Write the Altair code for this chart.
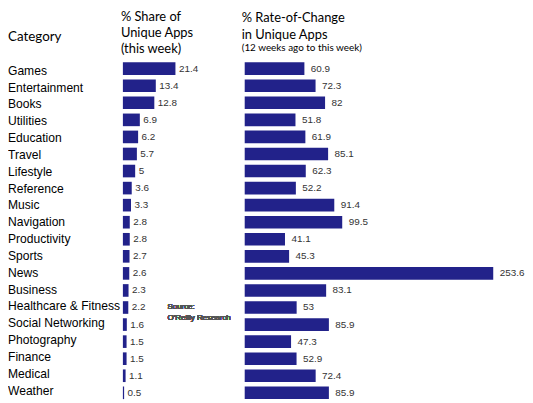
import altair as alt
import pandas as pd

categories = ["Games", "Entertainment", "Books", "Utilities", "Education", "Travel",
              "Lifestyle", "Reference", "Music", "Navigation", "Productivity", "Sports",
              "News", "Business", "Healthcare & Fitness", "Social Networking",
              "Photography", "Finance", "Medical", "Weather"]
share = [21.4, 13.4, 12.8, 6.9, 6.2, 5.7, 5, 3.6, 3.3, 2.8, 2.8, 2.7, 2.6, 2.3,
         2.2, 1.6, 1.5, 1.5, 1.1, 0.5]
change = [60.9, 72.3, 82, 51.8, 61.9, 85.1, 62.3, 52.2, 91.4, 99.5, 41.1, 45.3,
          253.6, 83.1, 53, 85.9, 47.3, 52.9, 72.4, 85.9]

df = pd.DataFrame({"category": categories, "share": share, "change": change})

BAR = "#22228a"
TITLE_FONT = "Lato"
LABEL_FONT = "Liberation Sans"
H = 340
STEP = H / 19.74

yscale = alt.Scale(domain=categories, paddingInner=0.26, paddingOuter=0)
y = alt.Y("category:N", sort=categories, scale=yscale, axis=None)

cat_panel = alt.Chart(df).mark_text(
    align="left", baseline="middle", font=LABEL_FONT, fontSize=12.2, color="#000"
).encode(
    y=y, x=alt.value(0), text="category:N"
).properties(
    width=114, height=H,
    title=alt.TitleParams("Category", anchor="start", font=TITLE_FONT, fontSize=13.5,
                          fontWeight="normal", offset=19, color="#000")
)

share_base = alt.Chart(df).encode(
    y=y,
    x=alt.X("share:Q", scale=alt.Scale(domain=[0, 48.4], nice=False, zero=True), axis=None),
)
share_bars = share_base.mark_bar(color=BAR)
share_text = share_base.mark_text(
    align="left", baseline="middle", dx=3.5, font=LABEL_FONT, fontSize=10, color="#333"
).encode(text=alt.Text("share:Q", format=".1~f"))
source = alt.Chart(df).mark_text(
    text=["Source:", "O\u2019Reilly Research"], align="left", baseline="middle",
    font=LABEL_FONT, fontSize=8, lineHeight=10.5, color="#555"
).encode(x=alt.value(45), y=alt.value(round(14.37 * STEP, 1)))

share_panel = alt.layer(share_bars, share_text, source).properties(
    width=120, height=H,
    title=alt.TitleParams(["% Share of", "Unique Apps", "(this week)"], anchor="start",
                          font=TITLE_FONT, fontSize=13, fontWeight="normal",
                          lineHeight=16.5, offset=6, color="#000", dx=-2)
)

change_base = alt.Chart(df).encode(
    y=y,
    x=alt.X("change:Q", scale=alt.Scale(domain=[0, 285], nice=False, zero=True), axis=None),
)
change_bars = change_base.mark_bar(color=BAR)
change_text = change_base.mark_text(
    align="left", baseline="middle", dx=6.5, font=LABEL_FONT, fontSize=10, color="#333"
).encode(text=alt.Text("change:Q", format=".1~f"))

change_panel = alt.layer(change_bars, change_text).properties(
    width=282, height=H,
    title=alt.TitleParams(["% Rate-of-Change", "in Unique Apps"],
                          subtitle="(12 weeks ago to this week)", anchor="start",
                          font=TITLE_FONT, fontSize=13, fontWeight="normal",
                          lineHeight=16.5, offset=9, color="#000",
                          subtitleFont=TITLE_FONT, subtitleFontSize=10,
                          subtitlePadding=2, subtitleColor="#000", dx=-3)
)

chart = alt.hconcat(cat_panel, share_panel, change_panel, spacing=0).properties(
    padding=0
).configure_view(stroke=None).configure_concat(spacing=0)

chart.save("out.html", embed_options={"renderer": "svg", "actions": False})
